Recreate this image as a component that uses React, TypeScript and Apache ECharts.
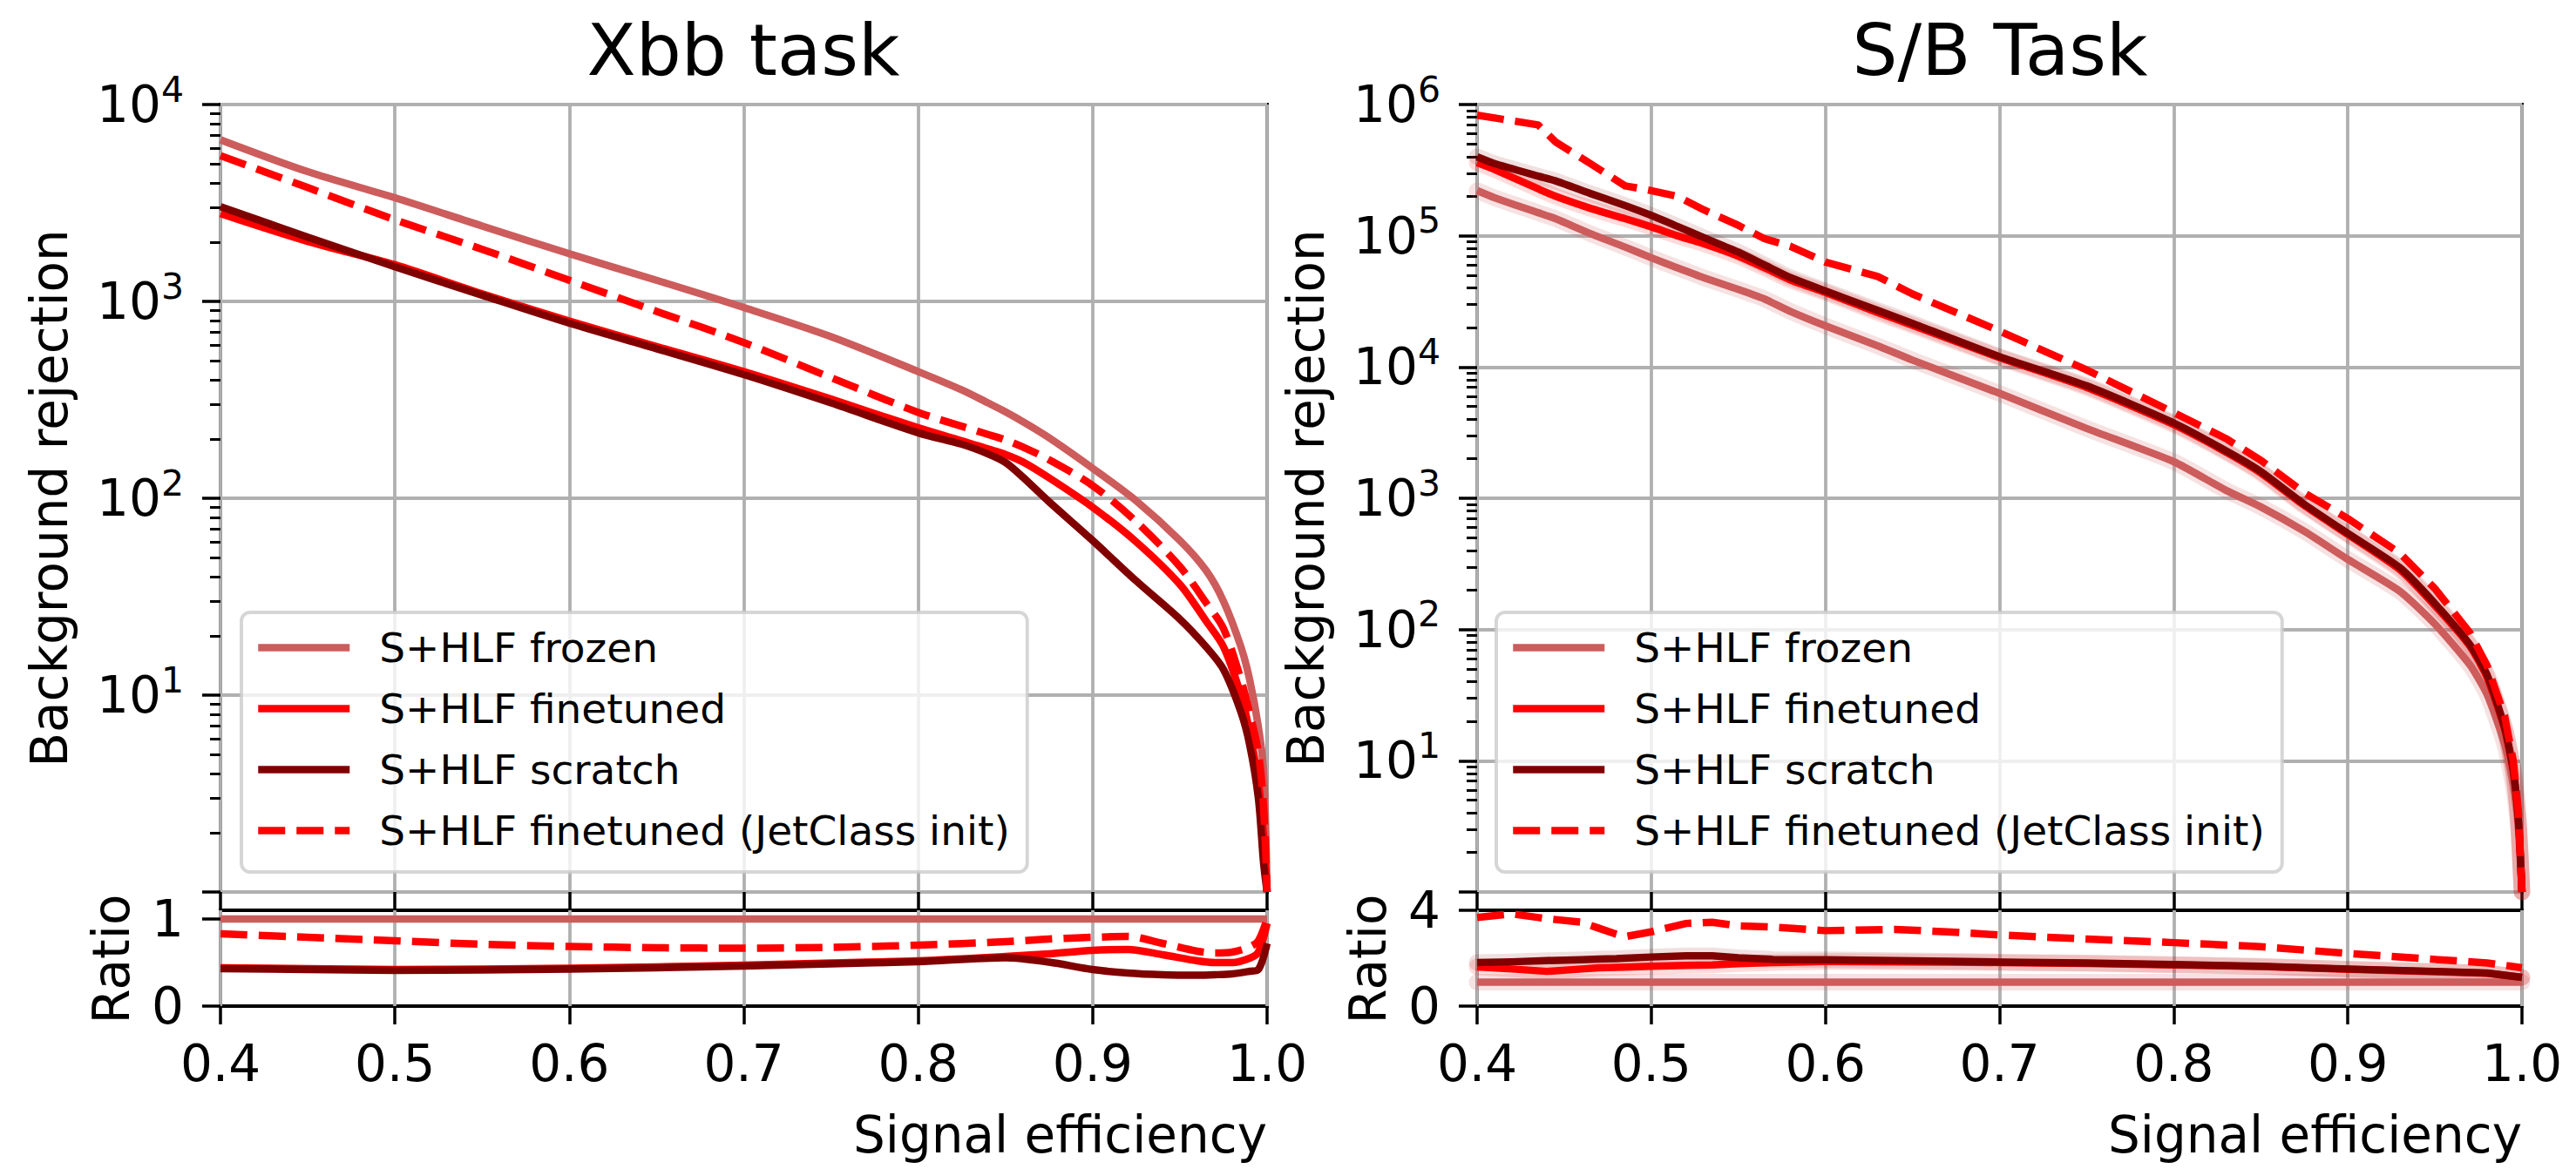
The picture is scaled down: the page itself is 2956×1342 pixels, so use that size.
import React, { useEffect, useRef } from 'react';
import * as echarts from 'echarts';

const FONT = 'DejaVu Sans';

// Series names and styles
const NAMES = ['S+HLF frozen', 'S+HLF finetuned', 'S+HLF scratch', 'S+HLF finetuned (JetClass init)'];
const COLORS = ['#CD5C5C', '#FF0000', '#800000', '#FF0000'];
const BANDS = ['rgba(205,92,92,0.18)', 'rgba(255,0,0,0.14)', 'rgba(128,0,0,0.12)'];
const DASH = [31, 13];

// Tick labels
const xTickLabels = ['0.4', '0.5', '0.6', '0.7', '0.8', '0.9', '1.0'];

// ---- Xbb task: background rejection vs signal efficiency ----
const xbbEff = [0.40, 0.45, 0.50, 0.55, 0.60, 0.65, 0.70, 0.75, 0.80, 0.825, 0.84, 0.85, 0.86, 0.875, 0.90, 0.925, 0.95, 0.965, 0.975, 0.985, 0.99, 0.995, 0.998, 1.0];
const xbbFrozen = [6620, 4560, 3360, 2415, 1746, 1280, 931, 662, 440, 355, 305, 275, 245, 203, 142, 97, 61, 43, 30, 17.6, 12, 6.9, 4.1, 1];
const xbbFinetuned = [2790, 2018, 1535, 1092, 795, 590, 440, 319, 228, 196, 178, 167, 153, 127, 90, 60, 36.5, 23.8, 17.6, 10, 6.5, 3.6, 1.9, 1];
const xbbScratch = [3030, 2120, 1500, 1075, 775, 575, 425, 305, 215, 188, 168, 152, 128, 96, 61, 38, 24.3, 17.6, 13.5, 8.2, 5.6, 3.0, 1.4, 1];
const xbbJetClass = [5500, 3785, 2600, 1840, 1280, 890, 618, 410, 273, 232, 211, 198, 182, 157, 116, 76, 45, 29.5, 21.8, 12, 8.1, 5.1, 2.7, 1];

// Xbb ratio to frozen
const xbbRatioEff = [0.40, 0.45, 0.50, 0.55, 0.60, 0.65, 0.70, 0.75, 0.80, 0.85, 0.875, 0.90, 0.92, 0.94, 0.96, 0.97, 0.98, 0.99, 0.995, 1.0];
const xbbRatioFrozen = [1, 1, 1, 1, 1, 1, 1, 1, 1, 1, 1, 1, 1, 1, 1, 1, 1, 1, 1, 1];
const xbbRatioFinetuned = [0.44, 0.43, 0.42, 0.425, 0.435, 0.45, 0.47, 0.495, 0.52, 0.57, 0.60, 0.64, 0.65, 0.59, 0.52, 0.50, 0.50, 0.55, 0.62, 0.95];
const xbbRatioScratch = [0.43, 0.42, 0.41, 0.415, 0.425, 0.44, 0.46, 0.485, 0.51, 0.555, 0.505, 0.42, 0.38, 0.36, 0.355, 0.36, 0.37, 0.40, 0.42, 0.72];
const xbbRatioJetClass = [0.83, 0.79, 0.75, 0.71, 0.685, 0.67, 0.665, 0.675, 0.70, 0.74, 0.77, 0.79, 0.80, 0.72, 0.63, 0.61, 0.62, 0.68, 0.75, 1.0];

// ---- S/B task: background rejection vs signal efficiency ----
const sbEff = [0.40, 0.41, 0.435, 0.445, 0.465, 0.485, 0.50, 0.515, 0.53, 0.55, 0.565, 0.58, 0.60, 0.63, 0.65, 0.70, 0.75, 0.80, 0.83, 0.85, 0.875, 0.90, 0.93, 0.95, 0.97, 0.98, 0.99, 0.995, 0.998, 1.0];
const sbFrozen = [221000, 195000, 150000, 135000, 104000, 82000, 68000, 57000, 48000, 39000, 33000, 26500, 20600, 14500, 11300, 6300, 3400, 1900, 1150, 860, 560, 342, 195, 110, 54, 32, 13.5, 6.5, 3, 1];
const sbFinetuned = [360000, 320000, 228000, 200000, 162000, 135000, 117000, 100000, 87000, 70000, 57000, 46000, 37000, 26000, 20800, 11800, 7000, 3650, 2250, 1560, 880, 530, 285, 152, 75, 43, 17.5, 8.2, 3.4, 1];
const sbScratch = [400000, 355000, 285000, 262000, 210000, 170000, 143000, 118000, 97000, 75000, 60000, 48000, 38000, 27000, 21500, 12000, 7200, 3750, 2300, 1600, 900, 540, 295, 158, 77, 45, 18, 8.5, 3.5, 1];
const sbJetClass = [830000, 790000, 700000, 520000, 355000, 240000, 221000, 200000, 158000, 120000, 95000, 83000, 63000, 49000, 36000, 18800, 9500, 4500, 2850, 1950, 1100, 700, 380, 205, 95, 53, 22, 10, 4, 1];

// S/B ratio to frozen
const sbRatioEff = [0.40, 0.42, 0.44, 0.46, 0.47, 0.48, 0.485, 0.50, 0.52, 0.535, 0.55, 0.57, 0.60, 0.64, 0.67, 0.70, 0.75, 0.80, 0.85, 0.90, 0.95, 0.98, 1.0];
const sbRatioFrozen = [1, 1, 1, 1, 1, 1, 1, 1, 1, 1, 1, 1, 1, 1, 1, 1, 1, 1, 1, 1, 1, 1, 1];
const sbRatioFinetuned = [1.64, 1.55, 1.45, 1.55, 1.6, 1.62, 1.63, 1.66, 1.7, 1.72, 1.77, 1.82, 1.86, 1.85, 1.84, 1.82, 1.78, 1.72, 1.65, 1.54, 1.44, 1.37, 1.2];
const sbRatioScratch = [1.82, 1.85, 1.9, 1.94, 1.96, 1.98, 2.0, 2.05, 2.1, 2.1, 2.02, 1.95, 1.94, 1.9, 1.87, 1.84, 1.8, 1.74, 1.66, 1.55, 1.45, 1.38, 1.2];
const sbRatioJetClass = [3.7, 3.85, 3.65, 3.5, 3.25, 3.0, 2.9, 3.1, 3.45, 3.5, 3.35, 3.3, 3.15, 3.2, 3.1, 2.97, 2.8, 2.65, 2.48, 2.2, 1.95, 1.8, 1.6];

const zip = (xs: number[], ys: number[]) => xs.map((x, i) => [x, ys[i]]);

// minor ticks of a log axis at 2..9 x 10^k
const minorLogTicks = (decades: number) => {
  const out: number[] = [];
  for (let k = 0; k < decades; k++) for (let m = 2; m <= 9; m++) out.push(m * Math.pow(10, k));
  return out;
};

const BLACK_TICK = { color: '#000', width: 3.5 };
const GRID_LINE = { color: '#b0b0b0', width: 3.8 };

function curve(name: string, idx: number, xAxisIndex: number, yAxisIndex: number, data: number[][], smooth: number | boolean) {
  return {
    type: 'line',
    name,
    xAxisIndex,
    yAxisIndex,
    data,
    symbol: 'none',
    showSymbol: false,
    smooth,
    clip: true,
    lineStyle: { color: COLORS[idx], width: 8.5, type: idx === 3 ? DASH : 'solid', cap: 'butt', join: 'round' },
    itemStyle: { color: COLORS[idx] },
    emphasis: { disabled: true },
    z: 3,
  };
}

function band(idx: number, xAxisIndex: number, yAxisIndex: number, data: number[][], smooth: number | boolean) {
  return {
    type: 'line',
    name: 'band ' + idx,
    xAxisIndex,
    yAxisIndex,
    data,
    symbol: 'none',
    showSymbol: false,
    smooth,
    clip: true,
    silent: true,
    lineStyle: { color: BANDS[idx], width: 19, cap: 'round', join: 'round' },
    emphasis: { disabled: true },
    z: 2,
  };
}

function xAxisFor(gridIndex: number, showLabels: boolean) {
  return {
    type: 'value',
    gridIndex,
    min: 0.4,
    max: 1.0,
    interval: 0.1,
    axisLine: { show: false },
    axisTick: { show: true, inside: false, length: 21, lineStyle: BLACK_TICK },
    axisLabel: {
      show: showLabels,
      formatter: (v: number) => xTickLabels[Math.round((v - 0.4) * 10)] ?? v.toFixed(1),
      fontSize: 58,
      fontFamily: FONT,
      color: '#000',
      margin: 37,
    },
    splitLine: { show: true, lineStyle: GRID_LINE },
  };
}

const logLabel = {
  margin: 42,
  formatter: (v: number) => {
    const e = Math.round(Math.log10(v));
    return e <= 0 ? '' : `{b|10}{s|${e}}`;
  },
  rich: {
    b: { fontSize: 58, fontFamily: FONT, color: '#000', lineHeight: 76 },
    s: { fontSize: 41, fontFamily: FONT, color: '#000', lineHeight: 41, verticalAlign: 'top' },
  },
};

function logAxes(gridIndex: number, decades: number) {
  const max = Math.pow(10, decades);
  return [
    {
      type: 'log',
      logBase: 10,
      gridIndex,
      min: 1,
      max,
      position: 'left',
      axisLine: { show: false },
      axisTick: { show: true, inside: false, length: 21, lineStyle: BLACK_TICK },
      axisLabel: logLabel,
      splitLine: { show: true, lineStyle: GRID_LINE },
      minorTick: { show: false },
    },
    {
      type: 'log',
      logBase: 10,
      gridIndex,
      min: 1,
      max,
      position: 'left',
      offset: 0,
      axisLine: { show: false },
      axisTick: { show: true, inside: false, length: 12, customValues: minorLogTicks(decades), lineStyle: { color: '#000', width: 3 } },
      axisLabel: { show: false },
      splitLine: { show: false },
    },
  ];
}

function ratioAxis(gridIndex: number, max: number, ticks: number[]) {
  return {
    type: 'value',
    gridIndex,
    min: 0,
    max,
    position: 'left',
    axisLine: { show: false },
    axisTick: { show: true, inside: false, length: 21, customValues: ticks, lineStyle: BLACK_TICK },
    axisLabel: { customValues: ticks, fontSize: 58, fontFamily: FONT, color: '#000', margin: 42 },
    splitLine: { show: false },
  };
}

function legendAt(left: number) {
  return {
    show: true,
    orient: 'vertical',
    left,
    top: 703,
    data: NAMES,
    itemGap: 23,
    itemWidth: 105,
    itemHeight: 2,
    padding: [17, 20, 24, 15],
    backgroundColor: 'rgba(255,255,255,0.8)',
    borderColor: 'rgba(204,204,204,0.8)',
    borderWidth: 4,
    borderRadius: 10,
    selectedMode: false,
    itemStyle: { opacity: 0, borderWidth: 0 },
    lineStyle: { width: 8.5 },
    textStyle: { fontSize: 47, fontFamily: FONT, color: '#000', lineHeight: 47, padding: [0, 0, 0, 29] },
    z: 10,
  };
}

function text(t: string, x: number, y: number, size: number, opts: any = {}) {
  return {
    type: 'text',
    x,
    y,
    rotation: opts.rotation ?? 0,
    style: {
      text: t,
      fontSize: size,
      fontFamily: FONT,
      fill: '#000',
      align: opts.align ?? 'center',
      verticalAlign: 'middle',
    },
  };
}

const gridBase = { show: true, borderColor: '#000', borderWidth: 4, backgroundColor: 'transparent', containLabel: false, outerBoundsMode: 'none' };

export default function App() {
  const ref = useRef<HTMLDivElement>(null);

  useEffect(() => {
    if (!ref.current) return;
    const chart = echarts.init(ref.current, null, { renderer: 'svg' });

    const xbbMain = [xbbFrozen, xbbFinetuned, xbbScratch, xbbJetClass];
    const xbbRatio = [xbbRatioFrozen, xbbRatioFinetuned, xbbRatioScratch, xbbRatioJetClass];
    const sbMain = [sbFrozen, sbFinetuned, sbScratch, sbJetClass];
    const sbRatio = [sbRatioFrozen, sbRatioFinetuned, sbRatioScratch, sbRatioJetClass];

    const series: any[] = [];
    // Xbb panel (x0/y0) and its ratio (x1/y2)
    xbbMain.forEach((ys, i) => series.push(curve(NAMES[i], i, 0, 0, zip(xbbEff, ys), 0.3)));
    xbbRatio.forEach((ys, i) => series.push(curve(NAMES[i], i, 1, 2, zip(xbbRatioEff, ys), 0.3)));
    // S/B panel (x2/y3) and its ratio (x3/y5), with uncertainty halos
    sbMain.slice(0, 3).forEach((ys, i) => series.push(band(i, 2, 3, zip(sbEff, ys), 0.2)));
    sbMain.forEach((ys, i) => series.push(curve(NAMES[i], i, 2, 3, zip(sbEff, ys), i === 3 ? false : 0.2)));
    sbRatio.slice(0, 3).forEach((ys, i) => series.push(band(i, 3, 5, zip(sbRatioEff, ys), false)));
    sbRatio.forEach((ys, i) => series.push(curve(NAMES[i], i, 3, 5, zip(sbRatioEff, ys), false)));

    chart.setOption({
      animation: false,
      backgroundColor: '#ffffff',
      grid: [
        { ...gridBase, left: 253, top: 120, width: 1201, height: 904 },
        { ...gridBase, left: 253, top: 1045, width: 1201, height: 110 },
        { ...gridBase, left: 1695, top: 120, width: 1199, height: 904 },
        { ...gridBase, left: 1695, top: 1045, width: 1199, height: 110 },
      ],
      xAxis: [xAxisFor(0, false), xAxisFor(1, true), xAxisFor(2, false), xAxisFor(3, true)],
      yAxis: [
        ...logAxes(0, 4),
        ratioAxis(1, 1.1, [0, 1]),
        ...logAxes(2, 6),
        ratioAxis(3, 4, [0, 4]),
      ],
      legend: [legendAt(277), legendAt(1717)],
      series,
      graphic: [
        text('Xbb task', 853, 57, 82),
        text('S/B Task', 2295, 57, 82),
        text('Background rejection', 57, 572, 58, { rotation: Math.PI / 2 }),
        text('Background rejection', 1499, 572, 58, { rotation: Math.PI / 2 }),
        text('Ratio', 128, 1101, 58, { rotation: Math.PI / 2 }),
        text('Ratio', 1570, 1101, 58, { rotation: Math.PI / 2 }),
        text('Signal efficiency', 1454, 1303, 58, { align: 'right' }),
        text('Signal efficiency', 2894, 1303, 58, { align: 'right' }),
      ],
    });

    return () => chart.dispose();
  }, []);

  return (
    <div
      ref={ref}
      style={{ position: 'absolute', left: 0, top: 0, width: 2956, height: 1342, background: '#fff' }}
    />
  );
}
